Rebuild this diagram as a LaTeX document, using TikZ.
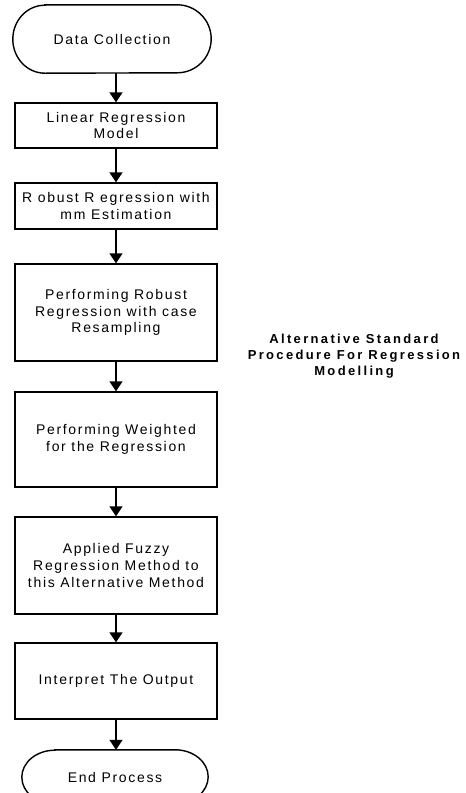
\documentclass[tikz,border=0pt]{standalone}
\usepackage{fontspec}
\setmainfont{Liberation Sans}
\usetikzlibrary{arrows.meta}
\newfontfamily\flowfont[LetterSpace=12]{Liberation Sans}
\newfontfamily\titlefont[LetterSpace=18]{Liberation Sans}
\begin{document}
\begin{tikzpicture}[x=1pt,y=-1pt,
  box/.style={draw,line width=1.4pt,rectangle,inner sep=0pt,minimum width=202pt,align=center,font=\flowfont\fontsize{14}{16.7}\selectfont},
  term/.style={inner sep=0pt,align=center,font=\flowfont\fontsize{14}{16.7}\selectfont},
  termline/.style={line width=1.4pt},
  arr/.style={line width=1.4pt,-{Triangle[width=13pt,length=10pt]}},
  title/.style={align=center,font=\titlefont\bfseries\fontsize{13}{16}\selectfont}]
\useasboundingbox (0,0) rectangle (466,793);
\clip (0,0) rectangle (466,793);
% start terminator
\node[term,minimum width=198pt,minimum height=68pt] (t1) at (112,39) {Data Collection};
\draw[termline] ([xshift=32pt]t1.north west) -- ([xshift=-34pt]t1.north east)
  arc[start angle=90,end angle=-90,x radius=34pt,y radius=34pt]
  -- ([xshift=32pt]t1.south west)
  arc[start angle=270,end angle=90,x radius=32pt,y radius=34pt] -- cycle;
\node[box,minimum height=45pt] (b2) at (116,125.5) {Linear Regression\\Model};
\node[box,minimum height=46pt] (b3) at (116,206) {R obust R egression with\\mm Estimation};
\node[box,minimum height=97pt] (b4) at (116,312.5) {Performing Robust\\Regression with case\\Resampling};
\node[box,minimum height=95pt] (b5) at (116,439.5) {Performing Weighted\\for the Regression};
\node[box,minimum height=97pt] (b6) at (116,565.5) {Applied Fuzzy\\Regression Method to\\this Alternative Method};
\node[box,minimum height=76pt] (b7) at (116,681) {Interpret The Output};
% end terminator
\node[term,minimum width=186pt,minimum height=54pt] (t2) at (115,777) {End Process};
\draw[termline] ([xshift=33pt]t2.north west) -- ([xshift=-33pt]t2.north east)
  arc[start angle=90,end angle=-90,x radius=33pt,y radius=27pt]
  -- ([xshift=33pt]t2.south west)
  arc[start angle=270,end angle=90,x radius=33pt,y radius=27pt] -- cycle;
% title
\node[title] (ttl) at (354,356) {Alternative Standard\\Procedure For Regression\\Modelling};
% arrows
\draw[arr] (t1.south -| b2.north) -- (b2.north);
\draw[arr] (b2) -- (b3);
\draw[arr] (b3) -- (b4);
\draw[arr] (b4) -- (b5);
\draw[arr] (b5) -- (b6);
\draw[arr] (b6) -- (b7);
\draw[arr] (b7.south) -- (b7.south |- t2.north);
\end{tikzpicture}
\end{document}
